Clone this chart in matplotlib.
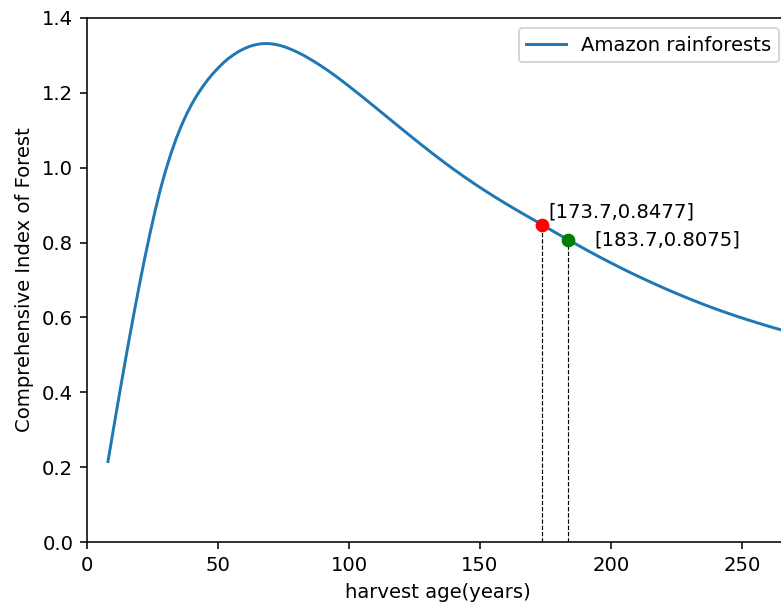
import matplotlib
matplotlib.use("Agg")
import matplotlib.pyplot as plt

# harvest age (years) and comprehensive index
age = [8, 10, 12, 14, 16, 18, 20, 22, 24, 26, 28, 30, 32, 34, 36, 38, 40, 42, 44,
       46, 48, 50, 52, 54, 56, 58, 60, 62, 64, 66, 68, 70, 72, 74, 76, 78, 80,
       82, 84, 86, 88, 90, 92, 94, 96, 98, 100, 104, 108, 112, 116, 120, 124,
       128, 132, 136, 140, 144, 148, 152, 156, 160, 164, 168, 172, 173.7, 176,
       180, 183.7, 188, 192, 196, 200, 204, 208, 212, 216, 220, 224, 228, 232,
       236, 240, 244, 248, 252, 256, 260, 264, 268, 272]
index = [0.215, 0.298, 0.380, 0.460, 0.538, 0.614, 0.687, 0.757, 0.823, 0.885,
         0.942, 0.992, 1.037, 1.077, 1.112, 1.143, 1.170, 1.194, 1.215, 1.234,
         1.251, 1.266, 1.280, 1.292, 1.302, 1.311, 1.318, 1.324, 1.328, 1.3308,
         1.3318, 1.3313, 1.3293, 1.326, 1.3215, 1.316, 1.3097, 1.3027, 1.2950,
         1.2867, 1.2780, 1.2689, 1.2594, 1.2495, 1.2392, 1.2286, 1.2177, 1.1956,
         1.1730, 1.1502, 1.1273, 1.1044, 1.0817, 1.0593, 1.0374, 1.0161, 0.9955,
         0.9757, 0.9566, 0.9382, 0.9205, 0.9034, 0.8868, 0.8706, 0.8548, 0.8477,
         0.8382, 0.8219, 0.8075, 0.7906, 0.7752, 0.7602, 0.7457, 0.7315, 0.7178,
         0.7045, 0.6916, 0.6791, 0.6670, 0.6553, 0.6440, 0.6331, 0.6226, 0.6127,
         0.6032, 0.5941, 0.5853, 0.5768, 0.5686, 0.5607, 0.5531]

# the two marked harvest ages
mark_age = [173.7, 183.7]
mark_index = [0.8477, 0.8075]
mark_color = ["red", "green"]
label_offset = [(3.1, 6.5), (13.3, 0.0)]  # points, relative to each dot

dpi = 141
fig = plt.figure(figsize=(781 / dpi, 606 / dpi), dpi=dpi)
ax = fig.add_axes([0.1114, 0.1056, 0.899, 0.8647])

ax.plot(age, index, label="Amazon rainforests")

for x, y, c, off in zip(mark_age, mark_index, mark_color, label_offset):
    ax.plot([x, x], [0, y], "k--", linewidth=0.6)
    ax.scatter([x], [y], color=c, zorder=3)
    ax.annotate("[{},{}]".format(x, y), xy=(x, y), xytext=off,
                textcoords="offset points", ha="left", va="center")

ax.set_xlim(0, 268)
ax.set_ylim(0, 1.4)
ax.set_xlabel("harvest age(years)")
ax.set_ylabel("Comprehensive Index of Forest")
ax.legend(loc="upper right")

fig.savefig("out.png", dpi=dpi)
